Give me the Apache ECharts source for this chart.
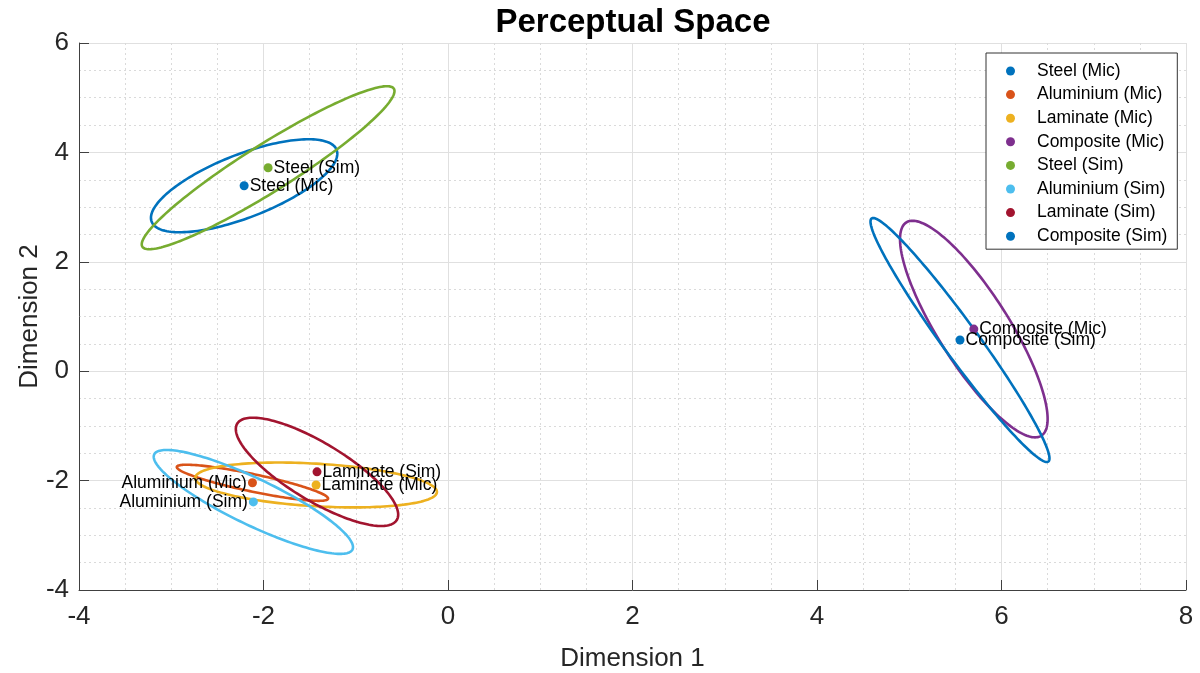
<!DOCTYPE html>
<html><head><meta charset="utf-8">
<script src="https://cdn.jsdelivr.net/npm/echarts@6/dist/echarts.min.js"></script>
<style>html,body{margin:0;padding:0;background:#fff}#c{width:1200px;height:673px}</style>
</head><body><div id="c"></div>
<script>
// ---- data ----
const names = ['Steel (Mic)','Aluminium (Mic)','Laminate (Mic)','Composite (Mic)','Steel (Sim)','Aluminium (Sim)','Laminate (Sim)','Composite (Sim)'];
const colors = ['#0072BD','#D95319','#EDB120','#7E2F8E','#77AC30','#4DBEEE','#A2142F','#0072BD'];
const pointX = [-2.21, -2.12, -1.43, 5.70, -1.95, -2.11, -1.42, 5.55];
const pointY = [ 3.39, -2.04, -2.08, 0.77,  3.72, -2.39, -1.84, 0.57];
const labelSide = ['right','left','right','right','right','left','right','right'];
// ellipse: x half-extent, y half-extent, correlation (centred on the point)
const ellRx  = [1.01, 0.82, 1.31, 0.80, 1.37, 1.08, 0.88, 0.97];
const ellRy  = [0.85, 0.33, 0.41, 1.98, 1.49, 0.95, 0.99, 2.23];
const ellRho = [0.69,-0.87,-0.31,-0.83, 0.94,-0.87,-0.79,-0.97];
const xTicks = {min:-4, max:8, interval:2};
const yTicks = {min:-4, max:6, interval:2};

const FONT = "'Liberation Sans', Arial, sans-serif";
const chart = echarts.init(document.getElementById('c'), null, {renderer:'canvas'});

const series = [];
names.forEach((n,i)=>{
  series.push({
    name:'ellipse'+i, type:'custom', z:2, silent:true, clip:true,
    data:[[pointX[i], pointY[i], ellRx[i], ellRy[i], ellRho[i]]],
    encode:{x:0,y:1},
    renderItem:function(params, api){
      const cx=api.value(0), cy=api.value(1), rx=api.value(2), ry=api.value(3), rho=api.value(4);
      const s=Math.sqrt(1-rho*rho);
      const pts=[];
      for(let k=0;k<=180;k++){
        const t=2*Math.PI*k/180;
        pts.push(api.coord([cx+rx*Math.cos(t), cy+ry*(rho*Math.cos(t)+s*Math.sin(t))]));
      }
      return {type:'polygon', shape:{points:pts}, style:{fill:'none', stroke:colors[i], lineWidth:2.6}};
    }
  });
});
names.forEach((n,i)=>{
  series.push({
    name:n, type:'scatter', z:5, symbol:'circle', symbolSize:9,
    itemStyle:{color:colors[i], opacity:1},
    data:[[pointX[i], pointY[i]]],
    label:{show:true, formatter:n, position:labelSide[i], distance:1, color:'#000', fontSize:17.5, fontFamily:FONT},
    emphasis:{disabled:true}
  });
});

chart.setOption({
  animation:false,
  backgroundColor:'#fff',
  title:{text:'Perceptual Space', left:628, top:1, textAlign:'center',
    textStyle:{fontFamily:FONT, fontSize:33, fontWeight:'bold', color:'#000'}},
  legend:{
    data:names.map(n=>({name:n, icon:'circle'})), orient:'vertical', left:986, top:53,
    itemWidth:9, itemHeight:9, itemGap:5.6,
    padding:[9,10,4,20],
    backgroundColor:'#fff', borderColor:'#333', borderWidth:1,
    textStyle:{fontFamily:FONT, fontSize:17.5, color:'#000', lineHeight:18, padding:[0,0,0,17]}
  },
  grid:{left:79, right:14, top:43, bottom:83, containLabel:false, outerBoundsMode:'none'},
  xAxis:{type:'value', min:xTicks.min, max:xTicks.max, interval:xTicks.interval,
    name:'Dimension 1', nameLocation:'middle', nameGap:56,
    nameTextStyle:{fontFamily:FONT, fontSize:26, color:'#262626'},
    axisLine:{show:true, onZero:false, lineStyle:{color:'#404040', width:1}},
    axisTick:{show:true, inside:true, length:10, lineStyle:{color:'#404040'}},
    axisLabel:{fontFamily:FONT, fontSize:26, color:'#262626', margin:14},
    splitLine:{show:true, lineStyle:{color:'#e0e0e0', width:1}},
    minorTick:{show:false, splitNumber:4},
    minorSplitLine:{show:true, lineStyle:{color:'#dadada', type:[2,3], width:1}}
  },
  yAxis:{type:'value', min:yTicks.min, max:yTicks.max, interval:yTicks.interval,
    name:'Dimension 2', nameLocation:'middle', nameGap:36, nameRotate:90, nameMoveOverlap:false,
    nameTextStyle:{fontFamily:FONT, fontSize:26, color:'#262626'},
    axisLine:{show:true, onZero:false, lineStyle:{color:'#404040', width:1}},
    axisTick:{show:true, inside:true, length:10, lineStyle:{color:'#404040'}},
    axisLabel:{fontFamily:FONT, fontSize:26, color:'#262626', margin:10},
    splitLine:{show:true, lineStyle:{color:'#e0e0e0', width:1}},
    minorTick:{show:false, splitNumber:4},
    minorSplitLine:{show:true, lineStyle:{color:'#dadada', type:[2,3], width:1}}
  },
  series:series
});
</script></body></html>
